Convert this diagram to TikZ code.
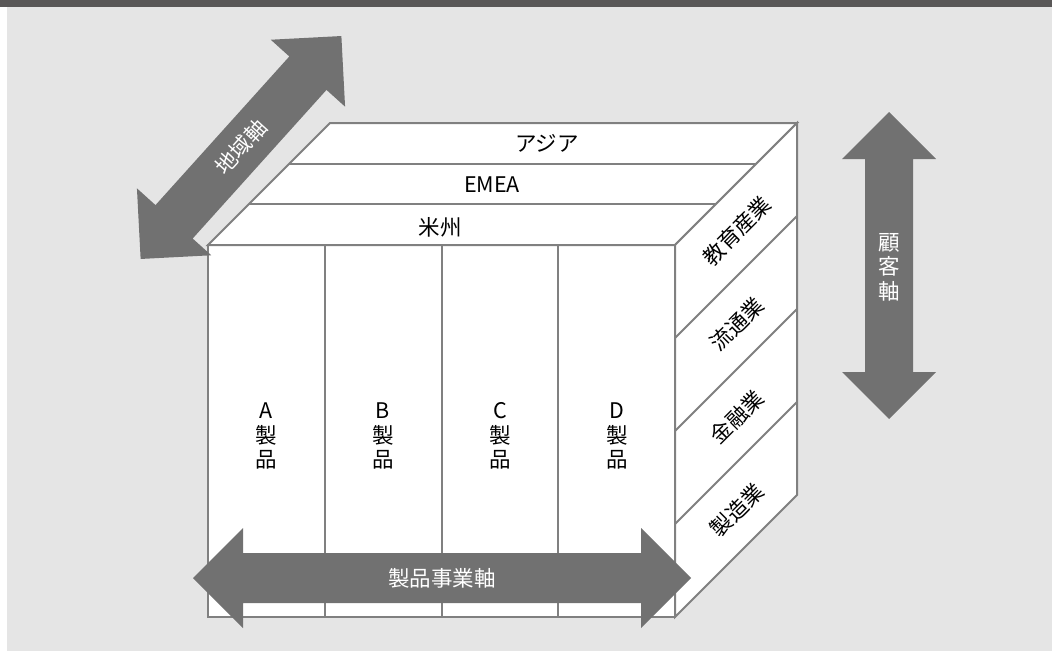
\documentclass[tikz,border=0pt]{standalone}
\usepackage{fontspec}
\setmainfont{Noto Sans CJK JP}
\usetikzlibrary{calc}
\definecolor{bgc}{HTML}{E5E5E5}
\definecolor{barc}{HTML}{595757}
\definecolor{arrowc}{HTML}{717171}
\definecolor{edgec}{HTML}{808080}
\newcommand\DblArrow[6]{% center, angle, half length, head length, half head width, half shaft width
  \fill[axisarrow, shift={#1}, rotate=#2]
    (-#3,0) -- (-#3+#4,-#5) -- (-#3+#4,-#6) -- (#3-#4,-#6) -- (#3-#4,-#5) -- (#3,0)
    -- (#3-#4,#5) -- (#3-#4,#6) -- (-#3+#4,#6) -- (-#3+#4,#5) -- cycle;}
\begin{document}
\begin{tikzpicture}[x=1pt,y=-1pt,
  face/.style={fill=white, draw=edgec, line width=2pt, line join=miter},
  divider/.style={draw=edgec, line width=2pt},
  txt/.style={font=\fontsize{21.5}{24.5}\selectfont, text=black, inner sep=0pt},
  axislabel/.style={font=\fontsize{21.5}{24.5}\selectfont, text=white, inner sep=0pt},
  axisarrow/.style={fill=arrowc}]
% background
\fill[white] (0,0) rectangle (1052,653);
\useasboundingbox (0,0) rectangle (1052,653);
\fill[bgc] (7,7) rectangle (1052,651);
\fill[barc] (0,0) rectangle (1052,7);
% cube corners
\coordinate (F1) at (208,245);
\coordinate (F2) at (675,245);
\coordinate (F3) at (675,617);
\coordinate (F4) at (208,617);
\coordinate (B1) at (330,123);
\coordinate (B2) at (797,123);
\coordinate (B3) at (797,495);
% faces
\path[face] (F4) rectangle (F2);
\path[face] (F1) -- (B1) -- (B2) -- (F2) -- cycle;
\path[face] (F2) -- (B2) -- (B3) -- (F3) -- cycle;
% front columns
\foreach \t in {0.25,0.5,0.75}
  \draw[divider] ($(F1)!\t!(F2)$) -- ($(F4)!\t!(F3)$);
% top strips
\foreach \t in {0.3333,0.6667}
  \draw[divider] ($(F1)!\t!(B1)$) -- ($(F2)!\t!(B2)$);
% right strips
\foreach \t in {0.25,0.5,0.75}
  \draw[divider] ($(F2)!\t!(F3)$) -- ($(B2)!\t!(B3)$);
% top labels
\node[txt] (asia) at (547,143) {アジア};
\node[txt] (emea) at (492,185) {EMEA};
\node[txt] (amer) at (440,227) {米州};
% front labels
\node[txt, align=center] (pa) at (266,436) {A\\製\\品};
\node[txt, align=center] (pb) at (383,436) {B\\製\\品};
\node[txt, align=center] (pc) at (500,436) {C\\製\\品};
\node[txt, align=center] (pd) at (617,436) {D\\製\\品};
% right labels
\node[txt, rotate=45] (edu) at (737,231) {教育産業};
\node[txt, rotate=45] (dist) at (737,324) {流通業};
\node[txt, rotate=45] (fin) at (737,417) {金融業};
\node[txt, rotate=45] (mfg) at (737,510) {製造業};
% axis arrows
\DblArrow{(241,147.5)}{48}{150}{50}{50}{25}
\node[axislabel, rotate=48] (region) at (241,147.5) {地域軸};
\DblArrow{(889,265.5)}{90}{153.5}{47}{47}{24}
\node[axislabel, align=center] (cust) at (889,267) {顧\\客\\軸};
\DblArrow{(442,578)}{0}{249}{50}{50}{25}
\node[axislabel] (prod) at (442,578) {製品事業軸};
\end{tikzpicture}
\end{document}
